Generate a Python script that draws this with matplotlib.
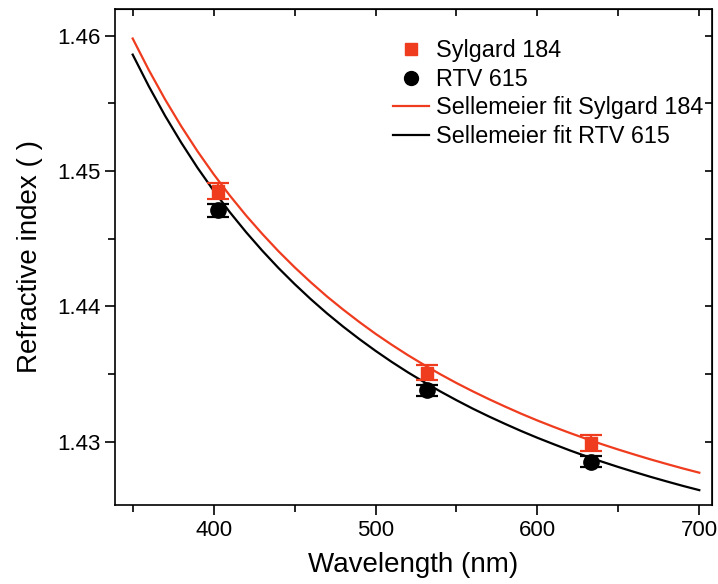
import numpy as np
import matplotlib
matplotlib.use('Agg')
import matplotlib.pyplot as plt
from matplotlib.ticker import MultipleLocator, FormatStrFormatter

plt.rcParams['font.family'] = ['Liberation Sans', 'DejaVu Sans']

# punti misurati (lunghezza d'onda in nm)
lam_punti = [403, 532, 633]
n_sylgard = [1.4485, 1.4351, 1.4299]
err_sylgard = [0.0006, 0.00055, 0.0006]
n_rtv = [1.4471, 1.4338, 1.4285]
err_rtv = [0.0005, 0.0004, 0.0004]

# curve di fit
lam_fit = [350, 360, 370, 380, 390, 400, 410, 420, 430, 440, 450, 460, 470, 480, 490,
           500, 510, 520, 530, 540, 550, 560, 570, 580, 590, 600, 610, 620, 630, 640,
           650, 660, 670, 680, 690, 700]
fit_sylgard = [1.45980, 1.45746, 1.45530, 1.45331, 1.45147, 1.44977, 1.44819, 1.44672,
               1.44536, 1.44408, 1.44289, 1.44178, 1.44073, 1.43976, 1.43884, 1.43797,
               1.43716, 1.43639, 1.43567, 1.43498, 1.43433, 1.43372, 1.43314, 1.43259,
               1.43206, 1.43156, 1.43109, 1.43064, 1.43021, 1.42980, 1.42941, 1.42904,
               1.42868, 1.42834, 1.42801, 1.42770]
fit_rtv = [1.45861, 1.45626, 1.45409, 1.45210, 1.45025, 1.44855, 1.44696, 1.44549,
           1.44412, 1.44284, 1.44165, 1.44053, 1.43948, 1.43850, 1.43758, 1.43671,
           1.43589, 1.43512, 1.43440, 1.43371, 1.43306, 1.43244, 1.43186, 1.43131,
           1.43078, 1.43028, 1.42981, 1.42935, 1.42892, 1.42851, 1.42812, 1.42775,
           1.42739, 1.42705, 1.42672, 1.42641]

rosso = '#ef3b1e'

fig = plt.figure(figsize=(7.18, 5.84), dpi=100)
ax = fig.add_axes([0.160, 0.135, 0.832, 0.850])

ax.plot(lam_fit, fit_sylgard, color=rosso, lw=1.6, zorder=2)
ax.plot(lam_fit, fit_rtv, color='black', lw=1.6, zorder=2)

ax.errorbar(lam_punti, n_sylgard, yerr=err_sylgard, fmt='s', color=rosso, ms=9,
            capsize=8, capthick=1.6, elinewidth=1.6, zorder=3)
ax.errorbar(lam_punti, n_rtv, yerr=err_rtv, fmt='o', color='black', ms=11,
            capsize=8, capthick=1.6, elinewidth=1.6, zorder=3)

# legenda con handle separati
h1, = ax.plot([], [], 's', color=rosso, ms=9)
h2, = ax.plot([], [], 'o', color='black', ms=10)
h3, = ax.plot([], [], '-', color=rosso, lw=1.6)
h4, = ax.plot([], [], '-', color='black', lw=1.6)
ax.legend([h1, h2, h3, h4],
          ['Sylgard 184', 'RTV 615', 'Sellemeier fit Sylgard 184', 'Sellemeier fit RTV 615'],
          loc='upper left', bbox_to_anchor=(0.430, 0.981), frameon=False, fontsize=16.8,
          handlelength=1.57, handletextpad=0.3, labelspacing=0.24, borderpad=0.4)

ax.set_xlim(339, 708)
ax.set_ylim(1.4253, 1.4620)
ax.xaxis.set_major_locator(MultipleLocator(100))
ax.xaxis.set_minor_locator(MultipleLocator(50))
ax.yaxis.set_major_locator(MultipleLocator(0.01))
ax.yaxis.set_minor_locator(MultipleLocator(0.005))
ax.yaxis.set_major_formatter(FormatStrFormatter('%.2f'))

ax.tick_params(which='major', direction='out', length=7, width=1.2, labelsize=16)
ax.tick_params(which='minor', direction='out', length=5, width=1.2)
for s in ax.spines.values():
    s.set_linewidth(1.2)

# tick interni sopra e a destra
top = ax.secondary_xaxis('top')
top.xaxis.set_major_locator(MultipleLocator(100))
top.xaxis.set_minor_locator(MultipleLocator(50))
top.tick_params(which='both', direction='in', length=5, width=1.2, labeltop=False)
destra = ax.secondary_yaxis('right')
destra.yaxis.set_major_locator(MultipleLocator(0.01))
destra.yaxis.set_minor_locator(MultipleLocator(0.005))
destra.tick_params(which='both', direction='in', length=5, width=1.2, labelright=False)

ax.set_xlabel('Wavelength (nm)', fontsize=20, labelpad=8)
ax.set_ylabel('Refractive index ( )', fontsize=20, labelpad=10)

fig.savefig('out.png', dpi=100)
